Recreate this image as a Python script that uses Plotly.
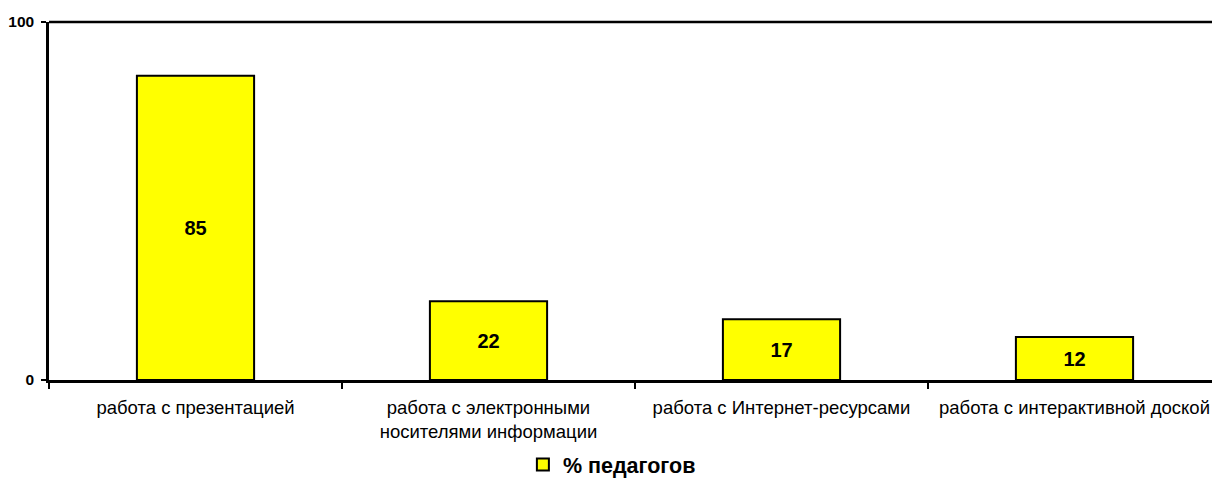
import plotly.graph_objects as go

categories = ["работа с презентацией", "работа с электронными<br>носителями информации",
              "работа с Интернет-ресурсами", "работа с интерактивной доской"]
values = [85, 22, 17, 12]
series_name = "% педагогов"
y_ticks = [0, 100]

FONT = "Liberation Sans, Arial, sans-serif"

fig = go.Figure()
fig.add_trace(go.Bar(
    x=categories, y=values, name=series_name,
    width=0.4,
    marker=dict(color="#FFFF00", line=dict(color="black", width=2)),
    text=[str(v) for v in values], textposition="inside", insidetextanchor="middle",
    textfont=dict(family=FONT, size=20, color="black", weight="bold"),
    showlegend=True,
))

W, H = 1212, 485
L, T, B, R = 49, 22, 105, 0
plot_w = W - L - R
span = plot_w / 293.0
fig.update_layout(
    width=W, height=H, margin=dict(l=L, r=R, t=T, b=B),
    plot_bgcolor="white", paper_bgcolor="white",
    font=dict(family=FONT, color="black"),
    xaxis=dict(
        type="category",
        range=[-0.5, -0.5 + span],
        tickson="boundaries", ticks="outside", ticklen=6, tickwidth=2, tickcolor="black",
        showline=True, linecolor="black", linewidth=2.5, showgrid=False, zeroline=False,
        tickfont=dict(size=18.5), ticklabelstandoff=9, ticklabeloverflow="allow",
    ),
    yaxis=dict(
        range=[0, 100], tickvals=y_ticks, ticks="outside", ticklen=5, tickwidth=2,
        tickcolor="black", showline=True, linecolor="black", linewidth=2.5,
        showgrid=False, zeroline=False,
        tickfont=dict(size=15.5, weight="bold"), ticklabelstandoff=4,
    ),
    legend=dict(orientation="h", x=0.484, xanchor="center", y=-0.237, yanchor="middle",
                font=dict(size=21.5, weight="bold"), itemwidth=30),
    shapes=[dict(type="line", xref="paper", yref="paper", x0=0, x1=1, y0=1, y1=1,
                 line=dict(color="black", width=2.5))],
)
fig.write_html("out.html", config={"displayModeBar": False},
               post_script="document.body.style.margin='0';document.body.style.overflow='hidden';")
